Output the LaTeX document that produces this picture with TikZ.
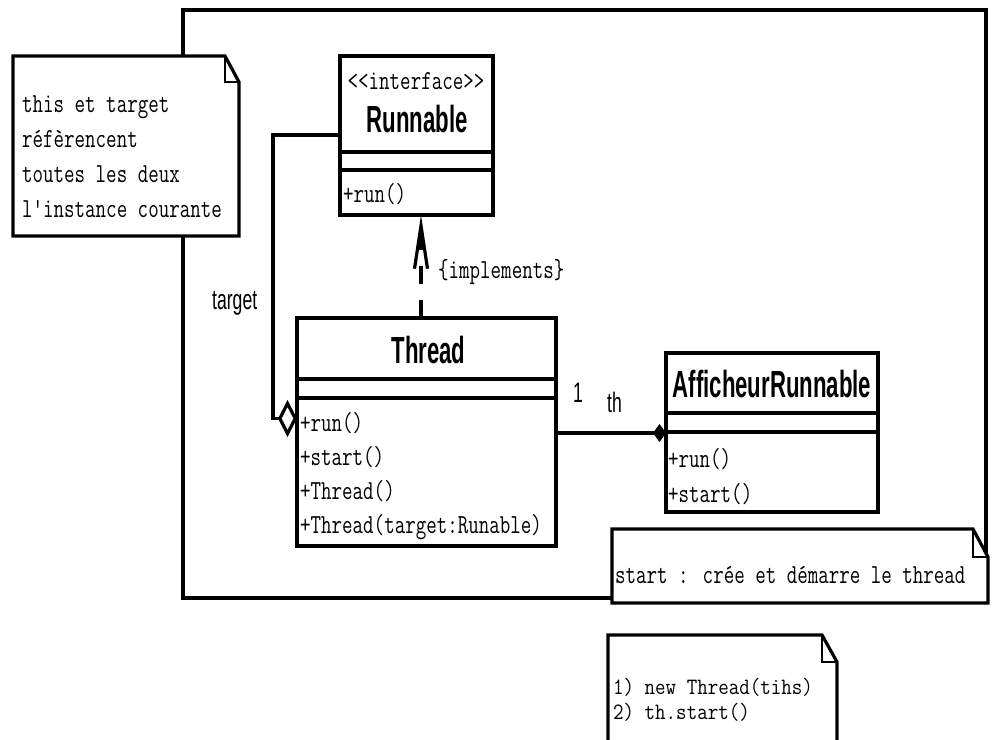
\documentclass[tikz,border=0pt]{standalone}
\usepackage{fontspec}
\usepackage{graphicx}
\usetikzlibrary{arrows.meta}
\newfontfamily\sansf{Liberation Sans}
\newcommand\mtxt[2][1.35]{\scalebox{1}[#1]{\ttfamily\addfontfeatures{FakeBold=0.6}\fontsize{20.4}{24}\selectfont #2}}
\newcommand\btxt[1]{\scalebox{1}[1.7]{\sansf\bfseries\fontsize{22.2}{26}\selectfont #1}}
\newcommand\ltxt[1]{\scalebox{1}[1.6]{\sansf\fontsize{17.6}{20}\selectfont #1}}
\begin{document}
\begin{tikzpicture}[x=1pt,y=-1pt,
  line/.style={line width=3.2pt},
  umlbox/.style={draw, line width=3.2pt, fill=white, inner sep=0pt, outer sep=0pt, anchor=north west},
  notebox/.style={inner sep=0pt, outer sep=0pt, anchor=north west},
  lbl/.style={inner sep=0pt, anchor=base west},
  clbl/.style={inner sep=0pt, anchor=base},
  foldline/.style={line width=1.2pt}]
\fill[white] (0,0) rectangle (992,739);
\useasboundingbox (0,0) rectangle (992,739);

% note placeholders
\node[notebox, minimum width=226pt, minimum height=180pt] (n1) at (13,56) {};
\node[notebox, minimum width=376pt, minimum height=74pt] (n2) at (612,529) {};
\node[notebox, minimum width=229pt, minimum height=110pt] (n3) at (608,635) {};
\coordinate (n2f) at ([yshift=-28pt]n2.north east);

% class boxes
\node[umlbox, minimum width=153pt, minimum height=159pt] (run) at (340,56) {};
\node[umlbox, minimum width=259pt, minimum height=228pt] (thread) at (297,318) {};
\node[umlbox, minimum width=212pt, minimum height=159pt] (aff) at (666,353) {};

% note links (outer frame)
\coordinate (lt) at (183,10);
\coordinate (rt) at (986,10);
\coordinate (lb) at (183,598);
\draw[line] (n1.north -| lt) -- (lt) -- (rt) -- (rt |- n2f);
\draw[line] (n1.south -| lb) -- (lb) -- (lb -| n2.west);

% notes
\draw[line, fill=white] (n1.north west) -- ([xshift=-14pt]n1.north east) -- ([yshift=-26pt]n1.north east) -- (n1.south east) -- (n1.south west) -- cycle;
\draw[foldline] ([xshift=-14pt]n1.north east) |- ([yshift=-26pt]n1.north east);
\draw[line, fill=white] (n2.north west) -- ([xshift=-15pt]n2.north east) -- (n2f) -- (n2.south east) -- (n2.south west) -- cycle;
\draw[foldline] ([xshift=-15pt]n2.north east) |- (n2f);
\draw[line, fill=white] (n3.south west) -- (n3.north west) -- ([xshift=-15pt]n3.north east) -- ([yshift=-27pt]n3.north east) -- (n3.south east);
\draw[foldline] ([xshift=-15pt]n3.north east) |- ([yshift=-27pt]n3.north east);

% compartments
\draw[line] ([yshift=-96pt]run.north west) -- ([yshift=-96pt]run.north east);
\draw[line] ([yshift=-114pt]run.north west) -- ([yshift=-114pt]run.north east);
\draw[line] ([yshift=-61pt]thread.north west) -- ([yshift=-61pt]thread.north east);
\draw[line] ([yshift=-80pt]thread.north west) -- ([yshift=-80pt]thread.north east);
\draw[line] ([yshift=-60pt]aff.north west) -- ([yshift=-60pt]aff.north east);
\draw[line] ([yshift=-79pt]aff.north west) -- ([yshift=-79pt]aff.north east);

% target aggregation
\coordinate (tg) at (273,135);
\coordinate (ay) at (0,418.5);
\draw[line, -{Diamond[open, length=19pt, width=37pt, fill=white]}] (run.west |- tg) -- (tg) -- (tg |- ay) -- (thread.west |- ay);

% realization
\coordinate (rx) at (421,0);
\draw[line, dash pattern=on 18pt off 16pt, -{Straight Barb[length=43pt, width=13pt]}] (thread.north -| rx) -- (run.south -| rx);

% composition
\coordinate (cy) at (0,433);
\draw[line, -{Diamond[length=13pt, width=18pt]}] (thread.east |- cy) -- (aff.west |- cy);

% texts: note 1
\node[lbl] (t11) at (22,112) {\mtxt{this et target}};
\node[lbl] (t12) at (22,147) {\mtxt{réfèrencent}};
\node[lbl] (t13) at (22,182) {\mtxt{toutes les deux}};
\node[lbl] (t14) at (22,217) {\mtxt{l'instance courante}};
% Runnable
\node[clbl] (rst) at (416,89) {\mtxt{<<interface>>}};
\node[clbl] (rnm) at (417,132) {\btxt{Runnable}};
\node[lbl] (rm1) at (343,202) {\mtxt{+run()}};
% Thread
\node[clbl] (tnm) at (428.5,363) {\btxt{Thread}};
\node[lbl] (tm1) at (300,431) {\mtxt{+run()}};
\node[lbl] (tm2) at (300,465) {\mtxt{+start()}};
\node[lbl] (tm3) at (300,499) {\mtxt{+Thread()}};
\node[lbl] (tm4) at (300,533) {\mtxt{+Thread(target:Runable)}};
% Afficheur
\node[clbl] (anm) at (772,397) {\btxt{AfficheurRunnable}};
\node[lbl] (am1) at (668,467) {\mtxt{+run()}};
\node[lbl] (am2) at (668,502) {\mtxt{+start()}};
% note 2, 3
\node[lbl] (t21) at (615,583) {\mtxt{start : crée et démarre le thread}};
\node[lbl] (t31) at (613,694) {\mtxt[1.15]{1) new Thread(tihs)}};
\node[lbl] (t32) at (613,719) {\mtxt[1.15]{2) th.start()}};
% connector labels
\node[lbl] (ltg) at (212,309) {\ltxt{target}};
\node[lbl] (lone) at (573,402) {\ltxt{1}};
\node[lbl] (lth) at (607,412) {\ltxt{th}};
\node[lbl] (limp) at (438,278) {\mtxt{\{implements\}}};
\end{tikzpicture}
\end{document}
